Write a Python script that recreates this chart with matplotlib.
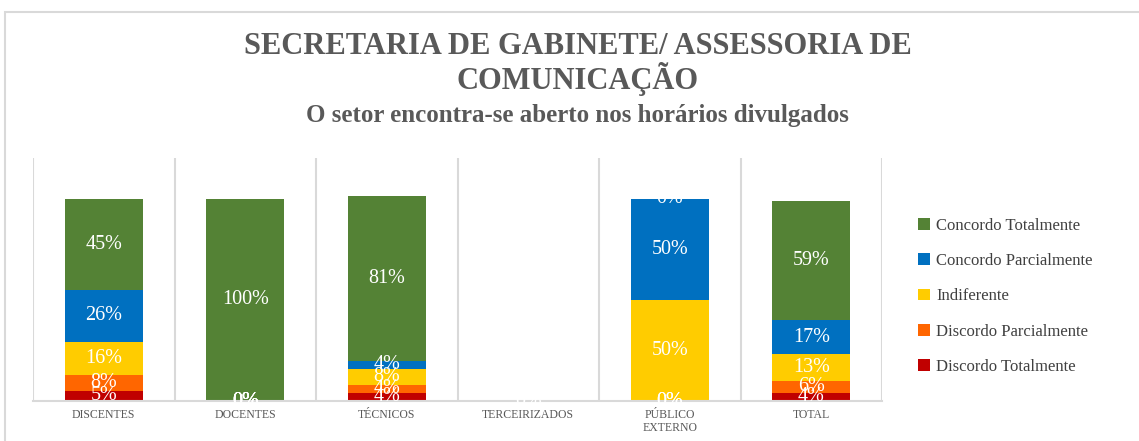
import numpy as np
import matplotlib
matplotlib.use("Agg")
import matplotlib.pyplot as plt
from matplotlib.patches import Rectangle

categories = ["DISCENTES", "DOCENTES", "TÉCNICOS", "TERCEIRIZADOS", "PÚBLICO\nEXTERNO", "TOTAL"]

# stacked from bottom to top
series_names = ["Discordo Totalmente", "Discordo Parcialmente", "Indiferente",
                "Concordo Parcialmente", "Concordo Totalmente"]
discordo_totalmente = [5, 0, 4, 0, 0, 4]
discordo_parcialmente = [8, 0, 4, 0, 0, 6]
indiferente = [16, 0, 8, 0, 50, 13]
concordo_parcialmente = [26, 0, 4, 0, 50, 17]
concordo_totalmente = [45, 100, 81, 0, 0, 59]
series_colors = ["#C00000", "#FF6600", "#FFCC00", "#0070C0", "#548235"]

title = "SECRETARIA DE GABINETE/ ASSESSORIA DE\nCOMUNICAÇÃO"
subtitle = "O setor encontra-se aberto nos horários divulgados"

plt.rcParams["font.family"] = ["Liberation Serif", "DejaVu Serif"]
fig = plt.figure(figsize=(11.39, 4.41), dpi=100)
ax = fig.add_axes([33 / 1139, 1 - 401 / 441, (882 - 33) / 1139, (401 - 158) / 441])

# chart frame (runs off the right and bottom edges)
fig.patches.append(Rectangle((5 / 1139, -0.05), 1.0, 1 - 12 / 441 + 0.05,
                             transform=fig.transFigure, fill=False,
                             edgecolor="#D9D9D9", lw=1.5))

x = np.arange(len(categories))
data = [discordo_totalmente, discordo_parcialmente, indiferente,
        concordo_parcialmente, concordo_totalmente]
bottom = np.zeros(len(categories))
handles = []
for name, vals, color in zip(series_names, data, series_colors):
    v = np.array(vals, dtype=float) / 100
    bars = ax.bar(x, v, 0.55, bottom=bottom, color=color, label=name, zorder=2)
    handles.append(bars)
    for xi, b, h, raw in zip(x, bottom, v, vals):
        if categories[xi] == "TERCEIRIZADOS":
            continue
        ax.text(xi, b + h / 2, f"{raw}%", ha="center", va="center",
                color="white", fontsize=14.5, zorder=3)
    bottom += v
# empty column still shows a single label at the base
ax.text(3, 0, "0%", ha="center", va="center", color="white", fontsize=14.5, zorder=3)

ax.set_xlim(-0.5, len(categories) - 0.5)
ax.set_ylim(0, 1.2)
ax.set_yticks([])
ax.set_xticks(x)
ax.set_xticklabels(categories, fontsize=8.5, color="#595959", linespacing=1.1)
ax.set_xticks(np.arange(len(categories) + 1) - 0.5, minor=True)
ax.tick_params(axis="x", which="both", length=0, pad=6)
ax.grid(True, axis="x", which="minor", color="#D9D9D9", lw=1.5, zorder=0)
for s in ["left", "right", "top"]:
    ax.spines[s].set_visible(False)
ax.spines["bottom"].set_color("#D9D9D9")
ax.spines["bottom"].set_linewidth(1.5)

fig.text(0.507, 1 - 64 / 441, title, ha="center", va="center", fontsize=22,
         fontweight="bold", color="#595959", linespacing=1.05)
fig.text(0.507, 1 - 116 / 441, subtitle, ha="center", va="center", fontsize=18,
         fontweight="bold", color="#595959")

leg = fig.legend(handles[::-1], series_names[::-1], loc="upper left",
                 bbox_to_anchor=(903 / 1139, 1 - 203 / 441), frameon=False,
                 fontsize=12, labelcolor="#404040", handlelength=0.7,
                 handleheight=0.7, handletextpad=0.4, labelspacing=1.15)

fig.savefig("out.png", dpi=100)
